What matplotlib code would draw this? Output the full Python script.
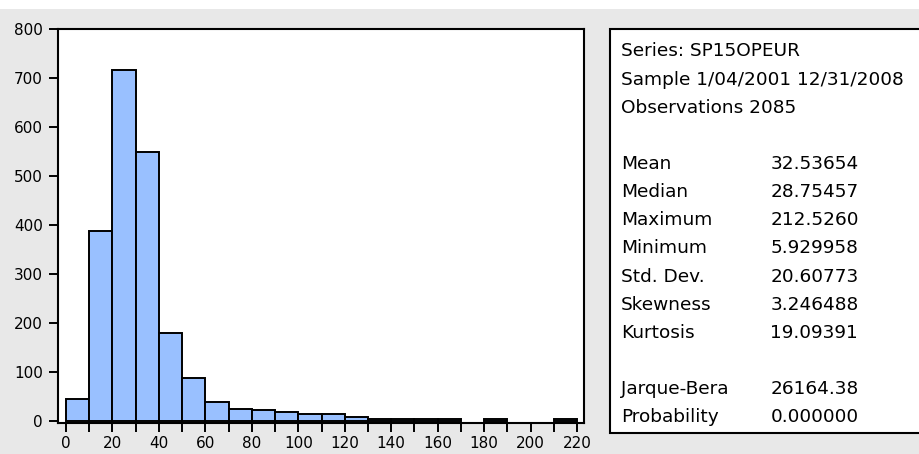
import numpy as np
import matplotlib
matplotlib.use('Agg')
import matplotlib.pyplot as plt
from matplotlib.patches import Rectangle

# histogram bins (width 10, from 0 to 220) and counts
bin_edges = list(range(0, 230, 10))
counts = [45, 388, 717, 548, 179, 86, 37, 24, 21, 17, 13, 13, 8, 4, 4, 4, 4, 0, 4, 0, 0, 4]

yticks = [0, 100, 200, 300, 400, 500, 600, 700, 800]
xlabels = [0, 20, 40, 60, 80, 100, 120, 140, 160, 180, 200, 220]

header = ['Series: SP15OPEUR', 'Sample 1/04/2001 12/31/2008', 'Observations 2085']
stat_names = ['Mean', 'Median', 'Maximum', 'Minimum', 'Std. Dev.', 'Skewness', 'Kurtosis']
stat_values = ['32.53654', '28.75457', '212.5260', '5.929958', '20.60773', '3.246488', '19.09391']
test_names = ['Jarque-Bera', 'Probability']
test_values = ['26164.38', '0.000000']

W, H = 919, 454
fig = plt.figure(figsize=(W / 100, H / 100), dpi=100, facecolor='#e8e8e8')
# white strip along the top
fig.patches.append(Rectangle((0, 1 - 9 / H), 1, 9 / H, transform=fig.transFigure,
                             facecolor='white', edgecolor='none', zorder=0))

ax = fig.add_axes([58 / W, 1 - 422.5 / H, (584 - 58) / W, (422.5 - 29) / H])
ax.set_facecolor('white')
left = np.array(bin_edges[:-1])
cnt = np.array(counts)
nz = cnt > 0  # empty bins draw nothing
ax.bar(left[nz], cnt[nz], width=10, align='edge', color='#99c0ff',
       edgecolor='black', linewidth=1.4, zorder=2)
ax.set_xlim(-3.44, 223)
ax.set_ylim(-4, 800)
ax.set_yticks(yticks)
ax.set_xticks(bin_edges)
ax.set_xticklabels([str(e) if e in xlabels else '' for e in bin_edges])
ax.tick_params(length=6.5, width=1.4, color='black', labelsize=11)
ax.tick_params(axis='y', pad=4.3)
ax.tick_params(axis='x', pad=3)
for s in ax.spines.values():
    s.set_linewidth(1.5)

# statistics box
fig.patches.append(Rectangle((610 / W, 1 - 433 / H), (930 - 610) / W, (433 - 29) / H,
                             transform=fig.transFigure, facecolor='white',
                             edgecolor='black', linewidth=1.5, zorder=1))

rows = header + [''] + stat_names + [''] + test_names
vals = ['', '', '', ''] + stat_values + [''] + test_values
for i, (name, val) in enumerate(zip(rows, vals)):
    y = 1 - (56.5 + i * 28.13) / H
    fig.text(621 / W, y, name, fontsize=13.3, va='baseline', ha='left', zorder=3)
    fig.text(770.5 / W, y, val, fontsize=13.3, va='baseline', ha='left', zorder=3)

fig.savefig('out.png', dpi=100, facecolor=fig.get_facecolor())
